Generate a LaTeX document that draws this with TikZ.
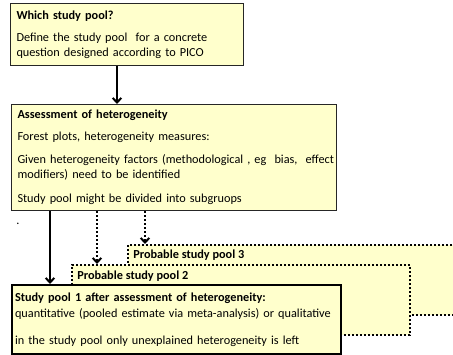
\documentclass[tikz,border=0pt]{standalone}
\usepackage{fontspec}
\setmainfont{Carlito}
\usetikzlibrary{positioning, arrows.meta}
\definecolor{notefill}{HTML}{FFFFCC}

\begin{document}
\begin{tikzpicture}[
    x=0.75pt, y=-0.75pt,
    >={Straight Barb[length=3.5pt, width=6.5pt]},
    box/.style={
        draw=black!85, fill=notefill, line width=0.75pt, anchor=north west,
        align=left, inner xsep=4.5pt, inner ysep=0pt,
        font=\fontsize{9.2}{11.25}\selectfont
    },
    pool/.style={
        draw=black, fill=notefill, line width=1.5pt, dash pattern=on 1.5pt off 1.5pt,
        anchor=north west, minimum height=52.5pt
    },
    head/.style={inner sep=0pt, font=\fontsize{9.2}{11.25}\selectfont\bfseries},
    flow/.style={->, line width=1.5pt},
    maybe/.style={->, line width=1.5pt, dash pattern=on 1.5pt off 1.5pt}
]

\useasboundingbox (0,0) rectangle (453,354);
\clip (0,0) rectangle (453,354);

% -------------------------
% Boxes
% -------------------------

% 1. Which study pool (top)
\node[box, text width=165.75pt, minimum height=46.5pt] (WhichPool) at (10,3) {
    \textbf{Which study pool?}\\[5.25pt]
    Define the study pool\ \ for a concrete\\
    question designed according to PICO
};

% 2. Assessment of heterogeneity (middle)
\node[box, text width=234.75pt, minimum height=79.5pt] (Assessment) at (11,104) {
    \textbf{Assessment of heterogeneity}\\[5.25pt]
    Forest plots, heterogeneity measures:\\[6pt]
    \mbox{Given heterogeneity factors (methodological , eg\ \ bias,\ \ effect}\\
    modifiers) need to be identified\\[6.75pt]
    Study pool might be divided into subgruops
};

\node[inner sep=0pt, font=\fontsize{9.2}{11.25}\selectfont] (Stray) at (18,224) {.};

% 3. Probable pools (stacked, dotted)
\node[pool, minimum width=257.25pt] (Pool3) at (127,244) {};
\node[head, below right=4.5pt and 4.5pt of Pool3.north west] (Pool3Head) {Probable study pool 3};

\node[pool, minimum width=253.5pt] (Pool2) at (71,264) {};
\node[head, below right=5.25pt and 4.5pt of Pool2.north west] (Pool2Head) {Probable study pool 2};

% 4. Study pool 1 (front)
\node[box, draw=black, line width=1.5pt, inner xsep=2.25pt, text width=242.25pt, minimum height=51.75pt] (Pool1) at (11,284) {
    \textbf{Study pool 1 after assessment of heterogeneity:}\\[0.75pt]
    quantitative (pooled estimate via meta-analysis) or qualitative\\[9pt]
    in the study pool only unexplained heterogeneity is left
};

% -------------------------
% Connections
% -------------------------

% WhichPool -> Assessment
\draw[flow] ([shift={(107,0)}]WhichPool.south west) -- ([shift={(107,0)}]WhichPool.south west |- Assessment.north);

% Assessment -> Pool1
\draw[flow] ([shift={(39,0)}]Pool1.north west |- Assessment.south) -- ([shift={(39,0)}]Pool1.north west);

% Assessment -> probable pools
\draw[maybe] ([shift={(26,0)}]Pool2.north west |- Assessment.south) -- ([shift={(26,0)}]Pool2.north west);
\draw[maybe] ([shift={(18,0)}]Pool3.north west |- Assessment.south) -- ([shift={(18,0)}]Pool3.north west);

\end{tikzpicture}
\end{document}
